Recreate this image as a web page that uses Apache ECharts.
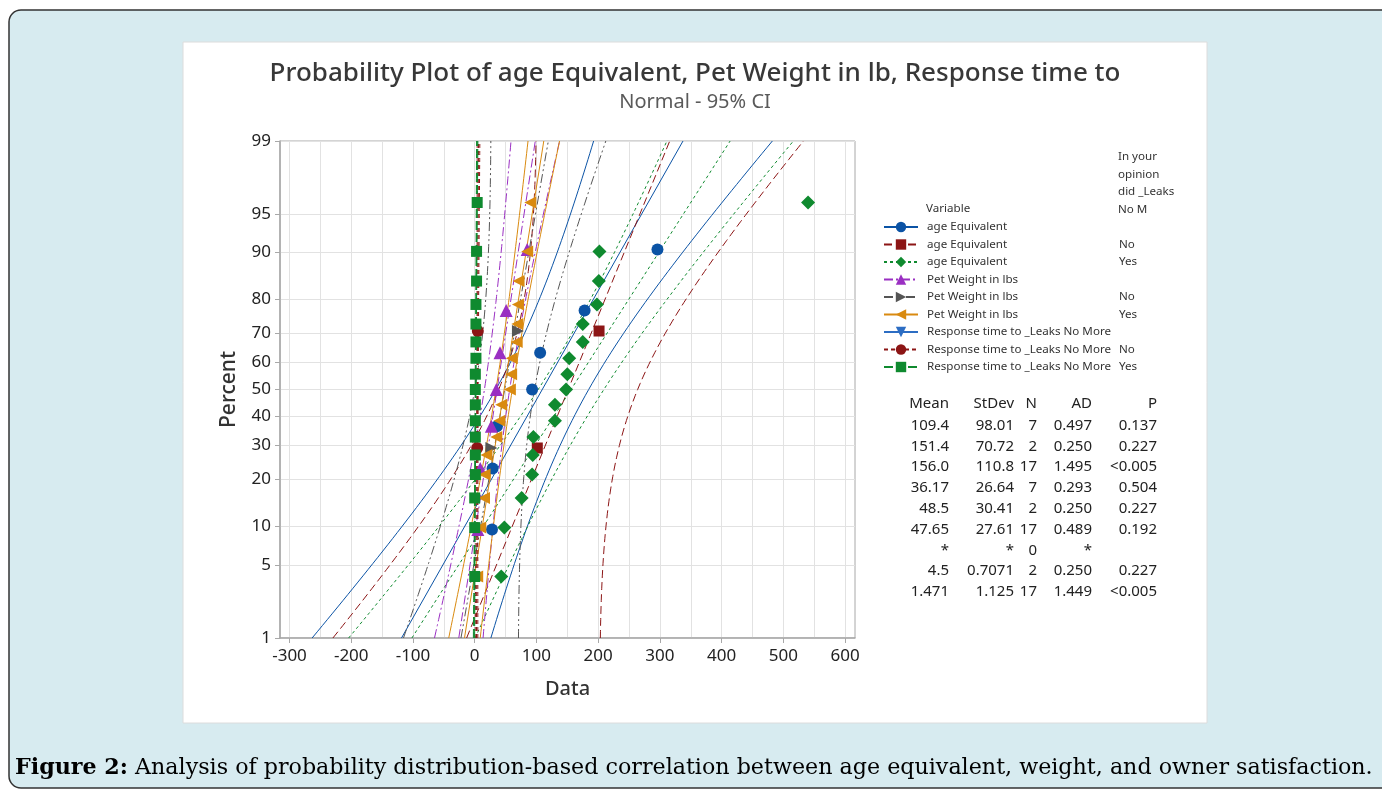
<!DOCTYPE html>
<html>
<head>
<meta charset="utf-8">
<script src="https://cdn.jsdelivr.net/npm/echarts@6/dist/echarts.min.js"></script>
<style>
html, body { margin: 0; padding: 0; background: #fff; }
#main { width: 1382px; height: 793px; }
</style>
</head>
<body>
<div id="main"></div>
<script>
// axis ticks
var percentTicks = [1, 5, 10, 20, 30, 40, 50, 60, 70, 80, 90, 95, 99];
var dataTicks = [-300, -200, -100, 0, 100, 200, 300, 400, 500, 600];
var dataGrid = [-300, -250, -200, -150, -100, -50, 0, 50, 100, 150, 200, 250, 300, 350, 400, 450, 500, 550, 600];

// plotting positions (percent) for samples of 7, 2 and 17
var pct7 = [9.5, 23.0, 36.5, 50.0, 63.5, 77.0, 90.5];
var pct2 = [29.2, 70.8];
var pct17 = [4.0, 9.8, 15.5, 21.3, 27.0, 32.8, 38.5, 44.3, 50.0, 55.7, 61.5, 67.2, 73.0, 78.7, 84.5, 90.2, 96.0];

// observed values, sorted
var ageAll = [28, 29, 36, 93, 106, 178, 296];
var ageNo = [101.4, 201.4];
var ageYes = [43, 48, 76, 93, 94, 95, 130, 130, 148, 150, 153, 175, 175, 198, 201, 202, 540];
var petAll = [5, 9, 27, 35, 41, 51, 85];
var petNo = [27, 70];
var petYes = [4, 9, 15, 16, 19, 35, 40, 43, 57, 59, 60, 68, 69, 70, 71, 85, 90];
var respAll = [];
var respNo = [4, 5];
var respYes = [0, 0, 0, 1, 1, 1, 1, 1, 1, 1, 2, 2, 2, 2, 3, 3, 4];

var variables = ['age Equivalent', 'age Equivalent', 'age Equivalent',
  'Pet Weight in lbs', 'Pet Weight in lbs', 'Pet Weight in lbs',
  'Response time to _Leaks No More', 'Response time to _Leaks No More', 'Response time to _Leaks No More'];
var groups = ['', 'No', 'Yes', '', 'No', 'Yes', '', 'No', 'Yes'];
var values = [ageAll, ageNo, ageYes, petAll, petNo, petYes, respAll, respNo, respYes];
var positions = [pct7, pct2, pct17, pct7, pct2, pct17, [], pct2, pct17];

// fitted parameters and table
var means = [109.4, 151.4, 156.0, 36.17, 48.5, 47.65, null, 4.5, 1.471];
var stdevs = [98.01, 70.72, 110.8, 26.64, 30.41, 27.61, null, 0.7071, 1.125];
var counts = [7, 2, 17, 7, 2, 17, 0, 2, 17];
var meanText = ['109.4', '151.4', '156.0', '36.17', '48.5', '47.65', '*', '4.5', '1.471'];
var stdevText = ['98.01', '70.72', '110.8', '26.64', '30.41', '27.61', '*', '0.7071', '1.125'];
var adText = ['0.497', '0.250', '1.495', '0.293', '0.250', '0.489', '*', '0.250', '1.449'];
var pText = ['0.137', '0.227', '<0.005', '0.504', '0.227', '0.192', '', '0.227', '<0.005'];
// band half-width multipliers
var ciCrit = [2.03, 2.25, 1.98, 2.03, 2.25, 1.98, 0, 2.25, 1.98];

var FONT = '"Noto Sans", sans-serif';

var styles = [
  { color: '#0b53a5', symbol: 'circle', size: 12, dash: 'solid' },
  { color: '#8c1515', symbol: 'rect', size: 11, dash: [8, 4] },
  { color: '#0f8a2f', symbol: 'diamond', size: 14, dash: [3, 3] },
  { color: '#9a2fc2', symbol: 'triangle', size: 13, dash: [9, 3, 2, 3] },
  { color: '#555555', symbol: 'path://M0,0L10,5L0,10Z', size: 12, dash: [9, 3, 2, 3, 2, 3] },
  { color: '#d98a10', symbol: 'path://M10,0L0,5L10,10Z', size: 12, dash: 'solid' },
  { color: '#2c6dc3', symbol: 'path://M0,0L10,0L5,10Z', size: 12, dash: 'solid' },
  { color: '#8c1515', symbol: 'circle', size: 12, dash: [4, 3] },
  { color: '#0f8a2f', symbol: 'rect', size: 11, dash: [9, 3] }
];

// inverse normal cdf, used as the probability scale
function probit(p) {
  var a = [-3.969683028665376e+01, 2.209460984245205e+02, -2.759285104469687e+02, 1.383577518672690e+02, -3.066479806614716e+01, 2.506628277459239e+00];
  var b = [-5.447609879822406e+01, 1.615858368580409e+02, -1.556989798598866e+02, 6.680131188771972e+01, -1.328068155288572e+01];
  var c = [-7.784894002430293e-03, -3.223964580411365e-01, -2.400758277161838e+00, -2.549732539343734e+00, 4.374664141464968e+00, 2.938163982698783e+00];
  var d = [7.784695709041462e-03, 3.224671290700398e-01, 2.445134137142996e+00, 3.754408661907416e+00];
  var pl = 0.02425, q, r;
  if (p < pl) {
    q = Math.sqrt(-2 * Math.log(p));
    return (((((c[0] * q + c[1]) * q + c[2]) * q + c[3]) * q + c[4]) * q + c[5]) / ((((d[0] * q + d[1]) * q + d[2]) * q + d[3]) * q + 1);
  }
  if (p > 1 - pl) {
    q = Math.sqrt(-2 * Math.log(1 - p));
    return -(((((c[0] * q + c[1]) * q + c[2]) * q + c[3]) * q + c[4]) * q + c[5]) / ((((d[0] * q + d[1]) * q + d[2]) * q + d[3]) * q + 1);
  }
  q = p - 0.5; r = q * q;
  return (((((a[0] * r + a[1]) * r + a[2]) * r + a[3]) * r + a[4]) * r + a[5]) * q / (((((b[0] * r + b[1]) * r + b[2]) * r + b[3]) * r + b[4]) * r + 1);
}

var zLo = probit(0.01), zHi = probit(0.99);
var zTicks = percentTicks.map(function (p) { return probit(p / 100); });
var keys = variables.map(function (v, i) { return groups[i] ? v + ' ' + groups[i] : v; });

var series = [];
var pointSeries = [];
var steps = 80;
for (var i = 0; i < keys.length; i++) {
  var st = styles[i];
  var fit = [], up = [], lo = [];
  if (counts[i] > 0) {
    fit = [[means[i] + zLo * stdevs[i], zLo], [means[i] + zHi * stdevs[i], zHi]];
    for (var k = 0; k <= steps; k++) {
      var z = zLo + (zHi - zLo) * k / steps;
      var half = ciCrit[i] * stdevs[i] * Math.sqrt(1 / counts[i] + z * z / (2 * counts[i]));
      up.push([means[i] + z * stdevs[i] + half, z]);
      lo.push([means[i] + z * stdevs[i] - half, z]);
    }
  }
  var ls = { color: st.color, width: 1, type: st.dash };
  series.push({
    type: 'line', name: keys[i], data: fit, symbol: st.symbol, symbolSize: st.size,
    showSymbol: false, itemStyle: { color: st.color }, lineStyle: ls, silent: true, z: 2
  });
  series.push({ type: 'line', name: keys[i] + ' upper', data: up, showSymbol: false, lineStyle: ls, silent: true, z: 2 });
  series.push({ type: 'line', name: keys[i] + ' lower', data: lo, showSymbol: false, lineStyle: ls, silent: true, z: 2 });
  pointSeries.push({
    type: 'scatter', name: keys[i] + ' points', symbol: st.symbol, symbolSize: st.size,
    itemStyle: { color: st.color, opacity: 1 }, silent: true, z: 3,
    data: values[i].map(function (v, j) { return [v, probit(positions[i][j] / 100)]; })
  });
}
series = series.concat(pointSeries);

// statistics table
var tableCols = [949, 1014, 1037, 1092, 1157];
var tableHead = ['Mean', 'StDev', 'N', 'AD', 'P'];
var graphics = [
  { type: 'rect', z: -10, shape: { x: 9, y: 10, width: 1420, height: 778, r: 12 },
    style: { fill: '#d7ebf0', stroke: '#333', lineWidth: 1.5 } },
  { type: 'rect', z: -9, shape: { x: 183, y: 42, width: 1024, height: 681 },
    style: { fill: '#fff', stroke: '#dcdcdc', lineWidth: 1 } },
  { type: 'text', z: 10, x: 695, y: 74, style: { text: 'Probability Plot of age Equivalent, Pet Weight in lb, Response time to',
    font: '500 26px ' + FONT, fill: '#383838', textAlign: 'center', textVerticalAlign: 'middle' } },
  { type: 'text', z: 10, x: 695, y: 102, style: { text: 'Normal - 95% CI',
    font: '20px ' + FONT, fill: '#5a5a5a', textAlign: 'center', textVerticalAlign: 'middle' } },
  { type: 'text', z: 10, x: 926, y: 209, style: { text: 'Variable', font: '11.6px ' + FONT, fill: '#333', textVerticalAlign: 'middle' } },
  { type: 'text', z: 10, x: 1118, y: 183, style: { text: 'In your\nopinion\ndid _Leaks\nNo M', font: '11.6px ' + FONT,
    lineHeight: 17.5, fill: '#333', textVerticalAlign: 'middle' } },
  { type: 'text', z: 10, x: 15, y: 768, style: {
    text: '{b|Figure 2:}{n| Analysis of probability distribution-based correlation between age equivalent, weight, and owner satisfaction.}',
    textVerticalAlign: 'middle',
    rich: {
      b: { fontFamily: '"DejaVu Serif", serif', fontWeight: 'bold', fontSize: 22.2, fill: '#000' },
      n: { fontFamily: '"DejaVu Serif", serif', fontSize: 22.2, fill: '#000' }
    } } }
];
tableHead.forEach(function (h, c) {
  graphics.push({ type: 'text', z: 10, x: tableCols[c], y: 404,
    style: { text: h, font: '15px ' + FONT, fill: '#222', textAlign: 'right', textVerticalAlign: 'middle' } });
});
for (var r = 0; r < keys.length; r++) {
  var row = [meanText[r], stdevText[r], String(counts[r]), adText[r], pText[r]];
  row.forEach(function (t, c) {
    graphics.push({ type: 'text', z: 10, x: tableCols[c], y: 425.5 + r * 20.8,
      style: { text: t, font: '15px ' + FONT, fill: '#222', textAlign: 'right', textVerticalAlign: 'middle' } });
  });
}

var chart = echarts.init(document.getElementById('main'));
chart.setOption({
  animation: false,
  backgroundColor: '#fff',
  textStyle: { fontFamily: FONT },
  grid: { left: 280, top: 141, right: 527, bottom: 155, show: true, borderColor: '#a8a8a8', borderWidth: 1 },
  legend: {
    left: 883, top: 221, orient: 'vertical', padding: 0, itemWidth: 34, itemHeight: 13, itemGap: 5.5,
    selectedMode: false, data: keys,
    textStyle: {
      fontSize: 11.6, color: '#333', fontFamily: FONT,
      rich: { v: { width: 192, fontSize: 11.6, color: '#333', padding: [0, 0, 0, 4] }, g: { fontSize: 11.6, color: '#333' } }
    },
    formatter: function (name) {
      var idx = keys.indexOf(name);
      return '{v|' + variables[idx] + '}{g|' + groups[idx] + '}';
    }
  },
  xAxis: [{
    type: 'value', min: -315.4, max: 616, name: 'Data', nameLocation: 'middle', nameGap: 41,
    nameTextStyle: { fontSize: 20, color: '#333', fontWeight: 500 },
    axisLine: { onZero: false, lineStyle: { color: '#a8a8a8', width: 1.5 } },
    axisTick: { customValues: dataTicks, length: 5, lineStyle: { color: '#a8a8a8' } },
    axisLabel: { customValues: dataTicks, fontSize: 17, color: '#222', margin: 10 },
    splitLine: { show: false }
  }, {
    type: 'value', min: -315.4, max: 616, position: 'bottom',
    axisLine: { show: false }, axisLabel: { show: false },
    axisTick: { show: false, customValues: dataGrid },
    splitLine: { show: true, lineStyle: { color: '#e2e2e2', width: 1 } }
  }],
  yAxis: {
    type: 'value', min: zLo, max: zHi, name: 'Percent', nameLocation: 'middle', nameGap: 40,
    nameTextStyle: { fontSize: 21, color: '#333', fontWeight: 500 },
    axisLine: { onZero: false, lineStyle: { color: '#a8a8a8', width: 1.5 } },
    axisTick: { customValues: zTicks, length: 5, lineStyle: { color: '#a8a8a8' } },
    axisLabel: {
      customValues: zTicks, fontSize: 17, color: '#222', margin: 9,
      formatter: function (v) {
        var best = 0;
        for (var t = 1; t < zTicks.length; t++) {
          if (Math.abs(zTicks[t] - v) < Math.abs(zTicks[best] - v)) best = t;
        }
        return String(percentTicks[best]);
      }
    },
    splitLine: { show: true, lineStyle: { color: '#e2e2e2', width: 1 } }
  },
  graphic: { elements: graphics },
  series: series
});
</script>
</body>
</html>
